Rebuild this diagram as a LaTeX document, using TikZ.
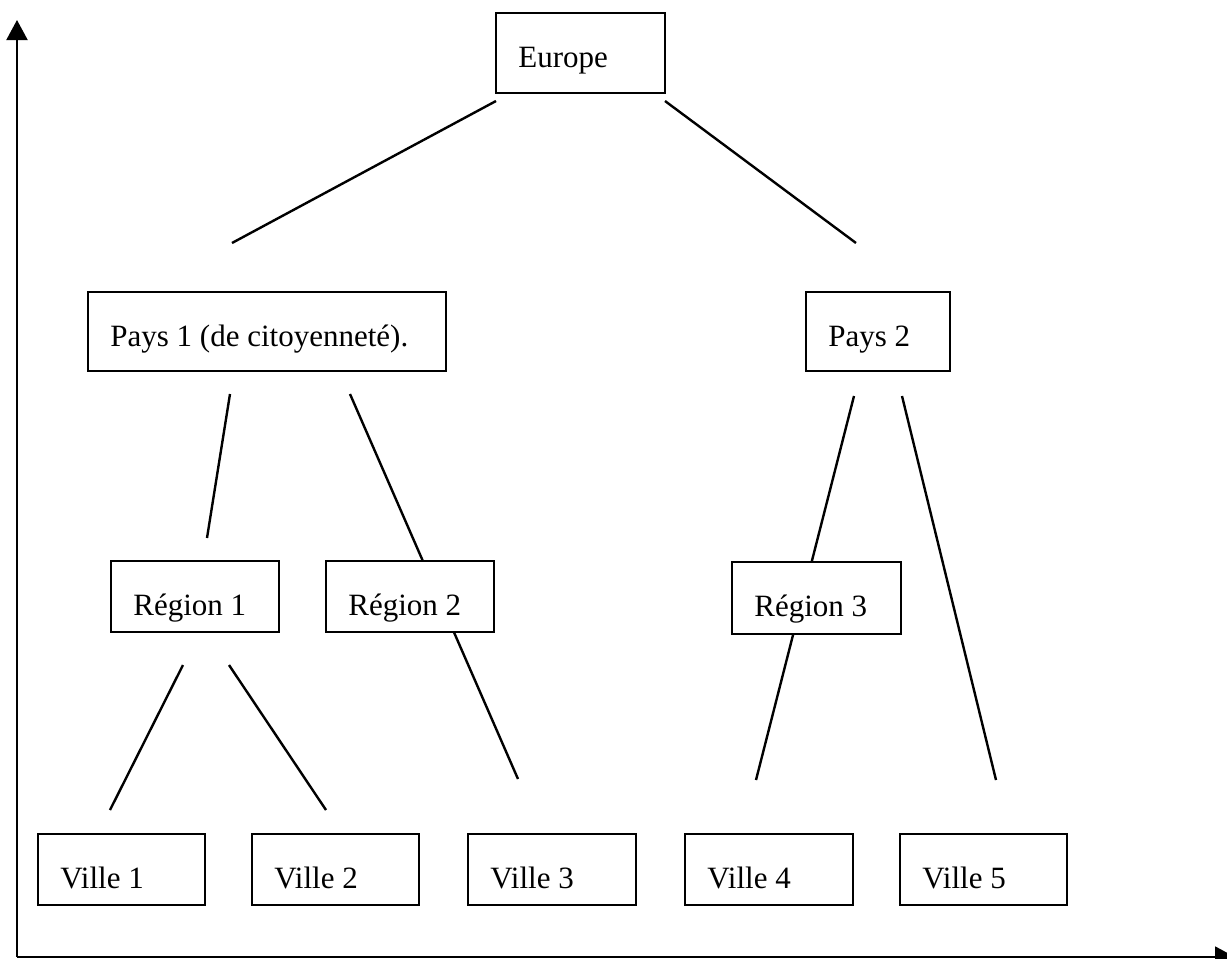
\documentclass[tikz,border=0pt]{standalone}
\usepackage{fontspec}
\setmainfont{Liberation Serif}
\usetikzlibrary{calc,arrows.meta,backgrounds}

% one drawing unit = one pixel of a 1227 x 959 sheet, y pointing down
\tikzset{
  x=0.5pt, y=-0.5pt,
  box/.style={draw, fill=white, line width=1pt, inner sep=0pt, outer sep=0pt,
              rectangle, anchor=north west},
  boxtext/.style={anchor=base west, inner sep=0pt,
                  font=\fontsize{15.5pt}{18pt}\selectfont},
  link/.style={line width=1.2pt},
  axis/.style={line width=1pt, -{Triangle[length=10pt,width=10.5pt]}}
}

% \treebox{name}{x}{y}{width}{height}{text}
\newcommand{\treebox}[6]{%
  \node[box, minimum width=#4*0.5pt, minimum height=#5*0.5pt] (#1) at (#2,#3) {};
  \node[boxtext] (#1-t) at ($(#1.north west)+(22,54)$) {#6};
}

\begin{document}
\begin{tikzpicture}
  \useasboundingbox (0,0) rectangle (1227,959);
  \clip (0,0) rectangle (1227,959);

  % axes
  \coordinate (origin) at (17,957);
  \coordinate (ytip) at (17,20);
  \coordinate (xtip) at (1235,957);
  \draw[axis] (origin) -- (ytip);
  \draw[axis] (origin) -- (xtip);

  % boxes
  \treebox{eu}{496}{13}{169}{80}{Europe}
  \treebox{p1}{88}{292}{358}{79}{Pays 1 (de citoyenneté).}
  \treebox{p2}{806}{292}{144}{79}{Pays 2}
  \treebox{r1}{111}{561}{168}{71}{Région 1}
  \treebox{r2}{326}{561}{168}{71}{Région 2}
  \treebox{r3}{732}{562}{169}{72}{Région 3}
  \treebox{v1}{38}{834}{167}{71}{Ville 1}
  \treebox{v2}{252}{834}{167}{71}{Ville 2}
  \treebox{v3}{468}{834}{168}{71}{Ville 3}
  \treebox{v4}{685}{834}{168}{71}{Ville 4}
  \treebox{v5}{900}{834}{167}{71}{Ville 5}

  % connector end points
  \coordinate (l1a) at ($(eu.south west)+(0,8)$);
  \coordinate (l1b) at ($(p1.north west)+(144,-49)$);
  \coordinate (l2a) at ($(eu.south east)+(0,8)$);
  \coordinate (l2b) at ($(p2.north west)+(50,-49)$);
  \coordinate (l3a) at ($(p1.south west)+(142,23)$);
  \coordinate (l3b) at ($(r1.north west)+(96,-23)$);
  \coordinate (l4a) at ($(p1.south west)+(262,23)$);
  \coordinate (l4b) at ($(v3.north west)+(50,-55)$);
  \coordinate (l5a) at ($(p2.south west)+(48,25)$);
  \coordinate (l5b) at ($(v4.north west)+(71,-54)$);
  \coordinate (l6a) at ($(p2.south west)+(96,25)$);
  \coordinate (l6b) at ($(v5.north west)+(96,-54)$);
  \coordinate (l7a) at ($(r1.south west)+(72,33)$);
  \coordinate (l7b) at ($(v1.north west)+(72,-24)$);
  \coordinate (l8a) at ($(r1.south west)+(118,33)$);
  \coordinate (l8b) at ($(v2.north west)+(74,-24)$);

  % connectors, behind the boxes
  \begin{scope}[on background layer]
    \draw[link] (l1a) -- (l1b);
    \draw[link] (l2a) -- (l2b);
    \draw[link] (l3a) -- (l3b);
    \draw[link] (l4a) -- (l4b);
    \draw[link] (l5a) -- (l5b);
    \draw[link] (l6a) -- (l6b);
    \draw[link] (l7a) -- (l7b);
    \draw[link] (l8a) -- (l8b);
  \end{scope}
\end{tikzpicture}
\end{document}
